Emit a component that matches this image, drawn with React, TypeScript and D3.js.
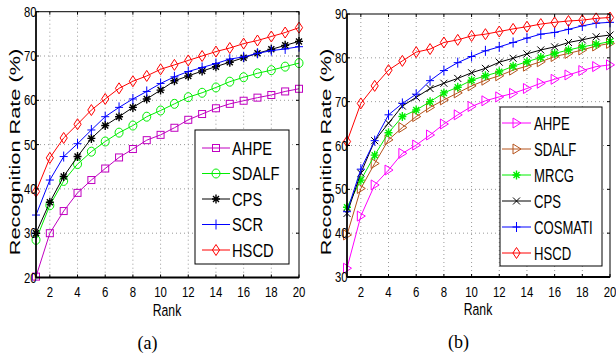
import { useEffect, useRef } from 'react'
import * as d3 from 'd3'

// ── Data (rank 1..20) ────────────────────────────────────────────────────
const RANKS = d3.range(1, 21)

const A_AHPE = [20.2, 30, 35, 39.1, 42, 44.6, 47.1, 49, 51, 52.2, 53.8, 55.6, 56.9, 58.2, 59.2, 59.9, 60.6, 61.2, 62, 62.6]
const A_SDALF = [28.5, 36.3, 41.8, 45.6, 48.4, 50.7, 52.7, 54.3, 56.3, 57.7, 59.2, 60.7, 61.7, 62.9, 64.2, 65.2, 66.1, 66.8, 67.6, 68.4]
const A_CPS = [30, 37, 42.8, 47.3, 51.4, 54.3, 56.3, 58.4, 60.3, 62.3, 64.4, 65.5, 66.6, 67.6, 68.6, 69.6, 70.6, 71.5, 72.4, 73.3]
const A_SCR = [34.1, 42, 47.3, 50.2, 53.3, 56.3, 58.4, 60.3, 62, 63.8, 65.3, 66.5, 67.4, 68.3, 69.3, 69.8, 70.6, 71.2, 71.6, 72.1]
const A_HSCD = [39.4, 47, 51.5, 54.6, 57.8, 60.3, 62.7, 64.3, 65.5, 67, 68, 69, 70, 71, 71.8, 72.8, 73.5, 74.4, 75.3, 76.4]

const B_AHPE = [32, 43.9, 51, 54.4, 58.2, 60.1, 62.4, 64.9, 67, 68.9, 70.2, 71.1, 71.9, 73, 74.2, 75.1, 76.1, 77.1, 78, 78.4]
const B_SDALF = [39.6, 50.2, 55.9, 61.3, 64.1, 66.6, 68.7, 70.4, 72, 73.6, 74.9, 75.9, 77.2, 78.1, 79.1, 80.3, 81, 81.8, 82.7, 83.3]
const B_MRCG = [45.9, 52.1, 57.8, 62.9, 66.6, 68.1, 70, 72, 73.3, 74.9, 75.9, 76.8, 78.1, 79.1, 80.1, 81, 81.8, 82.5, 83.1, 83.7]
const B_CPS = [44.5, 53.7, 61.1, 65.1, 69, 71, 73, 74.2, 75.3, 76.6, 77.6, 79, 79.9, 80.9, 81.8, 82.5, 83.5, 84.1, 84.8, 85.2]
const B_COSMATI = [44.9, 54.6, 61.1, 67, 69.6, 71.7, 74.8, 77.1, 78.9, 80.3, 81.6, 82.5, 83.5, 84.5, 85.4, 85.8, 86.5, 87.3, 87.9, 88.1]
const B_HSCD = [60.9, 69.6, 73.6, 77.2, 79.3, 81.3, 82, 83.5, 84.1, 85, 85.4, 86, 86.6, 87.1, 87.7, 88.1, 88.4, 88.6, 89, 89.2]

const X_TICKS = [2, 4, 6, 8, 10, 12, 14, 16, 18, 20]
const A_Y_TICKS = [20, 30, 40, 50, 60, 70, 80]
const B_Y_TICKS = [30, 40, 50, 60, 70, 80, 90]

type Marker = 'square' | 'circle' | 'star' | 'plus' | 'diamond' | 'tri' | 'cross'
type Series = { name: string; values: number[]; color: string; marker: Marker }

const SERIES_A: Series[] = [
  { name: 'AHPE', values: A_AHPE, color: '#c000c0', marker: 'square' },
  { name: 'SDALF', values: A_SDALF, color: '#00ee00', marker: 'circle' },
  { name: 'CPS', values: A_CPS, color: '#000000', marker: 'star' },
  { name: 'SCR', values: A_SCR, color: '#0000ff', marker: 'plus' },
  { name: 'HSCD', values: A_HSCD, color: '#ff0000', marker: 'diamond' },
]

const SERIES_B: Series[] = [
  { name: 'AHPE', values: B_AHPE, color: '#ff00ff', marker: 'tri' },
  { name: 'SDALF', values: B_SDALF, color: '#b5521b', marker: 'tri' },
  { name: 'MRCG', values: B_MRCG, color: '#00ee00', marker: 'star' },
  { name: 'CPS', values: B_CPS, color: '#000000', marker: 'cross' },
  { name: 'COSMATI', values: B_COSMATI, color: '#0000ff', marker: 'plus' },
  { name: 'HSCD', values: B_HSCD, color: '#ff0000', marker: 'diamond' },
]

const FONT = '"Liberation Sans", Arial, sans-serif'

type G = d3.Selection<SVGGElement, unknown, null, undefined>

// text squeezed horizontally to mimic the condensed figure font
function label(g: G, x: number, y: number, txt: string, size: number, sx: number, anchor = 'start') {
  return g.append('text').attr('transform', `translate(${x},${y}) scale(${sx},1)`)
    .attr('text-anchor', anchor).attr('font-family', FONT).attr('font-size', size).text(txt)
}

function drawMarker(g: G, m: Marker, x: number, y: number, color: string) {
  const s = g.append('g').attr('transform', `translate(${x},${y})`)
    .attr('fill', 'none').attr('stroke', color).attr('stroke-width', 1)
  if (m === 'square') s.append('rect').attr('x', -3.5).attr('y', -3.5).attr('width', 7).attr('height', 7)
  else if (m === 'circle') s.append('ellipse').attr('rx', 4).attr('ry', 4.5)
  else if (m === 'diamond') s.append('path').attr('d', 'M0,-5.5L3.6,0L0,5.5L-3.6,0Z')
  else if (m === 'tri') s.append('path').attr('d', 'M-3.5,-5L4.5,0L-3.5,5Z')
  else if (m === 'plus') s.append('path').attr('d', 'M-4,0H4M0,-5V5')
  else if (m === 'cross') s.append('path').attr('d', 'M-3.5,-3.5L3.5,3.5M-3.5,3.5L3.5,-3.5')
  else if (m === 'star') s.append('path').attr('d', 'M-4,0H4M0,-4.5V4.5M-3,-3L3,3M-3,3L3,-3').attr('stroke-width', 1.4)
}

type PanelProps = {
  x0: number; x1: number; yTop: number; yBot: number
  yDomain: [number, number]; yTicks: number[]; series: Series[]
  legend: { x: number; y: number; w: number; h: number; first: number; step: number; line: [number, number]; text: number; sx: number }
  ylabelX: number; ylabelY: number; caption: string
}

function drawPanel(svg: d3.Selection<SVGSVGElement, unknown, null, undefined>, p: PanelProps) {
  const x = d3.scaleLinear().domain([1, 20]).range([p.x0, p.x1])
  const y = d3.scaleLinear().domain(p.yDomain).range([p.yBot, p.yTop])
  const g = svg.append('g')

  // dotted grid
  X_TICKS.forEach(t => {
    if (t === 20) return
    g.append('line').attr('x1', x(t)).attr('x2', x(t)).attr('y1', p.yTop).attr('y2', p.yBot)
      .attr('stroke', '#999').attr('stroke-dasharray', '1,3')
  })
  p.yTicks.forEach(t => {
    if (t === p.yDomain[0] || t === p.yDomain[1]) return
    g.append('line').attr('x1', p.x0).attr('x2', p.x1).attr('y1', y(t)).attr('y2', y(t))
      .attr('stroke', '#999').attr('stroke-dasharray', '1,3')
  })

  // series
  const line = d3.line<number>().x((_, i) => x(RANKS[i])).y(d => y(d))
  p.series.forEach(s => {
    g.append('path').attr('d', line(s.values)).attr('fill', 'none').attr('stroke', s.color).attr('stroke-width', 1)
    s.values.forEach((v, i) => drawMarker(g, s.marker, x(RANKS[i]), y(v), s.color))
  })

  // frame + ticks
  g.append('rect').attr('x', p.x0).attr('y', p.yTop).attr('width', p.x1 - p.x0).attr('height', p.yBot - p.yTop)
    .attr('fill', 'none').attr('stroke', '#000').attr('stroke-width', 1)
  g.append('line').attr('x1', p.x0).attr('x2', p.x0).attr('y1', p.yTop).attr('y2', p.yBot).attr('stroke', '#000').attr('stroke-width', 1.5)
  g.append('line').attr('x1', p.x0).attr('x2', p.x1).attr('y1', p.yBot).attr('y2', p.yBot).attr('stroke', '#000').attr('stroke-width', 2)
  X_TICKS.forEach(t => {
    g.append('line').attr('x1', x(t)).attr('x2', x(t)).attr('y1', p.yBot).attr('y2', p.yBot - 3).attr('stroke', '#000')
    g.append('line').attr('x1', x(t)).attr('x2', x(t)).attr('y1', p.yTop).attr('y2', p.yTop + 3).attr('stroke', '#000')
    label(g, x(t), p.yBot + 19.5, String(t), 15, 0.76, 'middle')
  })
  p.yTicks.forEach(t => {
    g.append('line').attr('x1', p.x0).attr('x2', p.x0 + 3).attr('y1', y(t)).attr('y2', y(t)).attr('stroke', '#000')
    g.append('line').attr('x1', p.x1).attr('x2', p.x1 - 3).attr('y1', y(t)).attr('y2', y(t)).attr('stroke', '#000')
    label(g, p.x0 + 0.5, y(t) + 5, String(t), 14.5, 0.78, 'end')
  })

  // axis titles + caption
  const cx = (p.x0 + p.x1) / 2
  label(g, cx - 0.5, p.yBot + 38, 'Rank', 17, 0.72, 'middle')
  g.append('text').attr('transform', `translate(${p.ylabelX},${p.ylabelY}) rotate(-90) scale(1.45,1)`)
    .attr('text-anchor', 'middle').attr('font-family', FONT).attr('font-size', 15).text('Recognition Rate (%)')
  g.append('text').attr('x', cx - 20).attr('y', p.yBot + 71).attr('text-anchor', 'middle')
    .attr('font-family', '"Liberation Serif", "Times New Roman", serif').attr('font-size', 18).text(p.caption)

  // legend
  const L = p.legend
  g.append('rect').attr('x', L.x).attr('y', L.y).attr('width', L.w).attr('height', L.h)
    .attr('fill', '#fff').attr('stroke', '#000').attr('stroke-width', 1)
  p.series.forEach((s, i) => {
    const ly = L.first + i * L.step
    g.append('line').attr('x1', L.x + L.line[0]).attr('x2', L.x + L.line[1]).attr('y1', ly).attr('y2', ly)
      .attr('stroke', s.color).attr('stroke-width', 1)
    drawMarker(g, s.marker, L.x + (L.line[0] + L.line[1]) / 2, ly, s.color)
    label(g, L.x + L.text, ly + 6.5, s.name, 17.5, L.sx)
  })
}

export default function App() {
  const ref = useRef<SVGSVGElement>(null)
  useEffect(() => {
    const svg = d3.select(ref.current!)
    svg.selectAll('*').remove()
    drawPanel(svg, {
      x0: 36, x1: 299, yTop: 11.7, yBot: 277.5, yDomain: [20, 80], yTicks: A_Y_TICKS, series: SERIES_A,
      legend: { x: 195, y: 130, w: 94, h: 134, first: 148, step: 25.5, line: [7, 35], text: 37, sx: 0.84 },
      ylabelX: 20, ylabelY: 152, caption: '(a)',
    })
    drawPanel(svg, {
      x0: 347, x1: 610, yTop: 14, yBot: 277, yDomain: [30, 90], yTicks: B_Y_TICKS, series: SERIES_B,
      legend: { x: 500, y: 107, w: 102, h: 159, first: 123, step: 26, line: [2, 31], text: 34, sx: 0.75 },
      ylabelX: 331, ylabelY: 152, caption: '(b)',
    })
  }, [])
  return (
    <svg ref={ref} width={616} height={358}
      style={{ position: 'absolute', left: 0, top: 0, background: '#fff' }} />
  )
}
